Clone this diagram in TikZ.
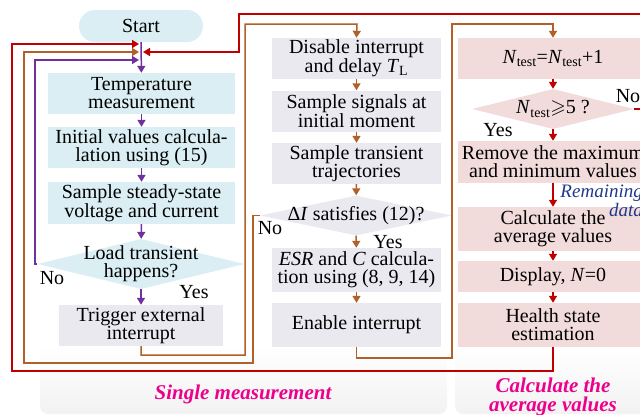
\documentclass[tikz,border=0pt]{standalone}
\usepackage{amssymb}
\usepackage{fontspec}
\setmainfont{Liberation Serif}
\usetikzlibrary{arrows.meta, shapes.geometric}
\definecolor{boxblue}{RGB}{218,238,243}
\definecolor{boxgray}{RGB}{235,233,240}
\definecolor{boxpink}{RGB}{242,220,219}
\definecolor{lpurple}{RGB}{112,48,160}
\definecolor{lbrown}{RGB}{176,96,40}
\definecolor{lred}{RGB}{192,0,0}
\definecolor{ldblue}{RGB}{31,56,140}
\tikzset{>={Triangle[length=7pt,width=8pt]},
  every node/.style={font=\fontsize{20}{18}\selectfont},
  flowbox/.style={inner sep=0pt, align=center, minimum height=41},
  bluebox/.style={flowbox, fill=boxblue, minimum width=187},
  graybox/.style={flowbox, fill=boxgray, minimum width=169},
  pinkbox/.style={flowbox, fill=boxpink, minimum width=190},
  decision/.style={diamond, inner sep=0pt},
  lbl/.style={inner sep=0pt, align=center},
  loopline/.style={line width=1.5pt, ->},
  panellbl/.style={lbl, text=magenta, font=\fontsize{21}{19}\selectfont\bfseries\itshape}}
\begin{document}
\begin{tikzpicture}[x=1pt, y=-1pt]
\useasboundingbox (0,0) rectangle (640,415);
\clip (0,0) rectangle (640,415);
% background panels
\shade[top color=white, bottom color=gray!10, rounded corners=8] (40,345) rectangle (447,414);
\shade[top color=white, bottom color=gray!10, rounded corners=8] (455,345) rectangle (660,414);
\node[panellbl] (single) at (243,394) {Single measurement};
\node[panellbl] (average) at (553,397) {Calculate the\\average values};
% single measurement, first column
\node[lbl, fill=boxblue, rounded corners=16, minimum width=124, minimum height=32] (start) at (141,26) {Start};
\node[bluebox] (temp) at (141.5,93.5) {Temperature\\measurement};
\node[bluebox] (init) at (141.5,147.5) {Initial values calcula-\\lation using (15)};
\node[bluebox, minimum height=42] (steady) at (141.5,203) {Sample steady-state\\voltage and current};
\node[decision, fill=boxblue, minimum width=207, minimum height=50] (load) at (141,264) {};
\node[lbl] (loadtxt) at (141,264) {Load transient\\happens?};
\node[graybox, minimum width=164] (trig) at (141,325.5) {Trigger external\\interrupt};
\node[lbl] (no1) at (52,278) {No};
\node[lbl] (yes1) at (194,292) {Yes};
% single measurement, second column
\node[graybox] (disable) at (356.5,58.5) {Disable interrupt\\and delay \textit{T}\textsubscript{L}};
\node[graybox] (signals) at (356.5,111) {Sample signals at\\initial moment};
\node[graybox] (traj) at (356.5,163.5) {Sample transient\\trajectories};
\node[decision, fill=boxgray, minimum width=192, minimum height=40] (deltai) at (356,215.5) {};
\node[lbl] (deltaitxt) at (356,215.5) {Δ\textit{I} satisfies (12)?};
\node[graybox, minimum height=44] (esr) at (356.5,270) {\textit{ESR} and \textit{C} calcula-\\tion using (8, 9, 14)};
\node[graybox, minimum height=44] (enable) at (356.5,325) {Enable interrupt};
\node[lbl] (no2) at (270,228) {No};
\node[lbl] (yes2) at (388,242) {Yes};
% average values column
\node[pinkbox] (ntest) at (553,58.5) {\textit{N}\textsubscript{test}=\textit{N}\textsubscript{test}+1};
\node[decision, fill=boxpink, minimum width=162, minimum height=40] (five) at (553,109) {};
\node[lbl] (fivetxt) at (553,109) {\textit{N}\textsubscript{test}$\geqslant$5 ?};
\node[pinkbox, minimum height=42] (remove) at (553,162) {Remove the maximum\\and minimum values};
\node[pinkbox, minimum height=44] (avg) at (553,229) {Calculate the\\average values};
\node[pinkbox, minimum height=31] (disp) at (553,276.5) {Display, \textit{N}=0};
\node[pinkbox, minimum height=44] (health) at (553,325) {Health state\\estimation};
\node[lbl] (no3) at (628,96) {No};
\node[lbl] (yes3) at (498,130) {Yes};
\node[lbl, anchor=north east, align=right, text=ldblue, font=\fontsize{19}{14}\selectfont\itshape] (remain) at (643,185) {Remaining\\data};
% merge points above the first box
\coordinate (inred) at (139,44);
\coordinate (inbrown) at (139,52);
\coordinate (inpurple) at (139,60);
\coordinate (inno) at (143,52);
% short arrows
\foreach \a/\b in {start/temp, temp/init, init/steady, steady/load, load/trig}
  \draw[loopline, lpurple] (\a) -- (\b);
\foreach \a/\b in {disable/signals, signals/traj, traj/deltai, deltai/esr, esr/enable}
  \draw[loopline, lbrown] (\a) -- (\b);
\foreach \a/\b in {ntest/five, five/remove, remove/avg, avg/disp, disp/health}
  \draw[loopline, lred] (\a) -- (\b);
% loops
\draw[loopline, lpurple] (load.west) -- (35,264) |- (inpurple);
\draw[loopline, lbrown] (trig.south) |- (245,355) |- (357,24) -- (disable.north);
\draw[loopline, lbrown] (deltai.west) -- (253,215.5) |- (24,363) |- (inbrown);
\draw[loopline, lbrown] (enable.south) |- (452,358) |- (553,24) -- (ntest.north);
\draw[loopline, lred] (health.south) |- (12,371) |- (inred);
\draw[loopline, lred] (five.east) -- (660,109) |- (239,14) |- (inno);
\end{tikzpicture}
\end{document}
